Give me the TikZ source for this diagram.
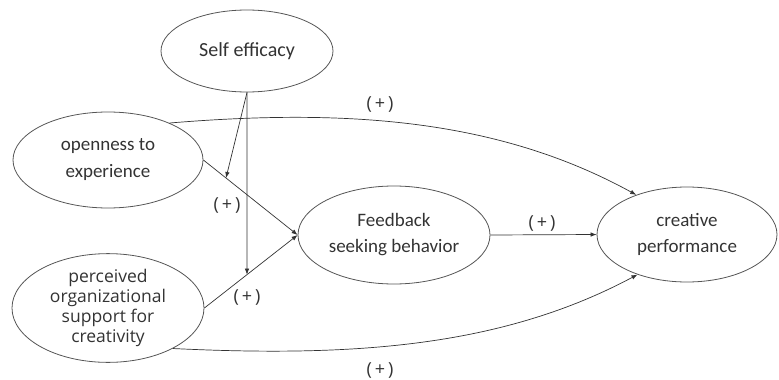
\documentclass[tikz,border=0pt]{standalone}
\usepackage{fontspec}
\setmainfont{Carlito}
\newfontfamily\altfont{Open Sans}
\usetikzlibrary{shapes.geometric,arrows.meta}
\definecolor{edge}{HTML}{555555}
\definecolor{ink}{HTML}{333333}
\begin{document}
\begin{tikzpicture}[x=1pt,y=-1pt,
  var/.style={draw=edge,line width=0.8pt,ellipse,inner sep=0pt,text=ink,align=center,
    font=\fontsize{19}{26}\selectfont},
  conn/.style={draw=ink,line width=0.7pt,-{Latex[length=6pt,width=4.5pt]}},
  lbl/.style={text=ink,font=\altfont\fontsize{18}{20}\selectfont,inner sep=0pt}]
\useasboundingbox (0,0) rectangle (779,380);
\node[var,minimum width=172,minimum height=82,font=\fontsize{20}{26}\selectfont] (s) at (247,51) {Self efficacy};
\node[var,minimum width=190,minimum height=96] (o) at (108,160) {openness to\\[1pt]experience};
\node[var,minimum width=192,minimum height=94,font=\altfont\fontsize{17.5}{19.8}\selectfont] (p) at (108,308) {perceived\\organizational\\support for\\creativity};
\node[var,minimum width=192,minimum height=98] (f) at (394,235) {Feedback\\seeking behavior};
\node[var,minimum width=180,minimum height=95] (c) at (687,234.5) {creative\\performance};
\path (o.east) -- (f.west) coordinate[pos=0.24] (m1);
\path (p.east) -- (f.west) coordinate[pos=0.457] (m2);
\draw[conn] (o.east) -- (f.west);
\draw[conn] (p.east) -- (f.west);
\draw[conn] (f.east) -- (c.west);
\draw[conn] (s.south) -- (m2);
\draw[conn] (s.south) -- (m1);
\draw[conn] (o.31) .. controls (350,108) and (500,120) .. (c.142);
\draw[conn] (p.-32) .. controls (350,357) and (500,348) .. (c.-141);
\node[lbl] (l1) at (380,104) {(\,+\,)};
\node[lbl] (l2) at (227,205) {(\,+\,)};
\node[lbl] (l3) at (247,297) {(\,+\,)};
\node[lbl] (l4) at (542,223) {(\,+\,)};
\node[lbl] (l5) at (380,370) {(\,+\,)};
\end{tikzpicture}
\end{document}
